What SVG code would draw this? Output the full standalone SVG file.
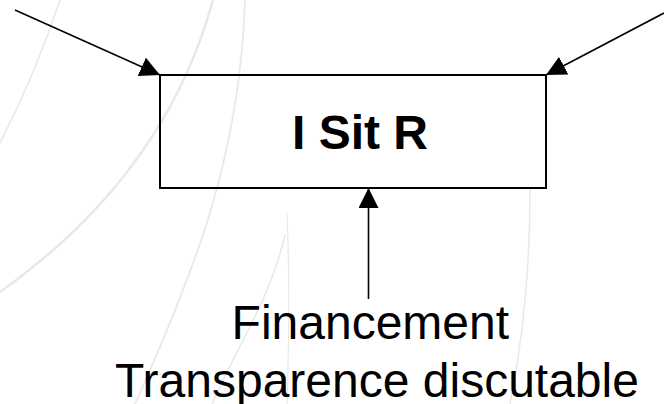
<svg xmlns="http://www.w3.org/2000/svg" width="664" height="404" viewBox="0 0 664 404">
  <style>
    .bg { fill: none; stroke: #e8e8e8; stroke-linecap: round; }
    .conn { fill: none; stroke: #000; stroke-width: 1.6; }
    .box { fill: none; stroke: #000; stroke-width: 2; }
    .title { font-family: "Liberation Sans", Arial, sans-serif; font-weight: bold; font-size: 48px; fill: #000; }
    .label { font-family: "Liberation Sans", Arial, sans-serif; font-size: 48px; fill: #000; }
  </style>
  <defs>
    <marker id="arrow" viewBox="0 0 20 20" refX="20" refY="10" markerWidth="20" markerHeight="20" markerUnits="userSpaceOnUse" orient="auto">
      <path d="M0,0 L20,10 L0,20 z" fill="#000"/>
    </marker>
  </defs>
  <rect width="664" height="404" fill="#fff"/>
  <g id="background">
    <path class="bg" stroke-width="1.5" d="M60,0 Q35,75 0,143"/>
    <path class="bg" stroke-width="2.5" d="M213,0 Q165,175 0,292"/>
    <path class="bg" stroke-width="1.8" d="M245,0 C240,150 200,260 135,404"/>
    <path class="bg" stroke-width="1.5" d="M285,235 C270,300 235,350 212,404"/>
    <path class="bg" stroke-width="1.2" d="M287,213 C290,280 289,340 287,404"/>
    <path class="bg" stroke-width="1.5" d="M530,190 C530,260 525,330 510,404"/>
  </g>
  <g id="connectors">
    <line class="conn" x1="15" y1="10" x2="160" y2="75" marker-end="url(#arrow)"/>
    <line class="conn" x1="664" y1="13" x2="546" y2="75" marker-end="url(#arrow)"/>
    <line class="conn" x1="368.5" y1="299" x2="368.5" y2="188" marker-end="url(#arrow)"/>
  </g>
  <g id="node-isitr">
    <rect class="box" x="160" y="75" width="386" height="113"/>
    <text class="title" x="360" y="149" text-anchor="middle">I Sit R</text>
  </g>
  <g id="label-financement">
    <text class="label" text-anchor="middle">
      <tspan x="377" y="339">Financement</tspan>
      <tspan x="377" y="397">Transparence discutable</tspan>
    </text>
  </g>
</svg>
